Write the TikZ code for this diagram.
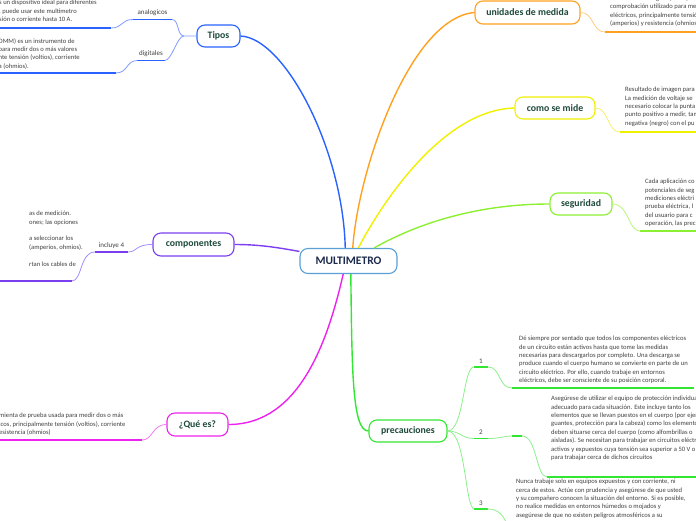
\documentclass[tikz,border=0pt]{standalone}
\usepackage{fontspec}
\setmainfont{Carlito}
\usetikzlibrary{positioning}
\definecolor{mmblue}{HTML}{2962FF}
\definecolor{mmbluetw}{HTML}{7F9BFF}
\definecolor{mmpurple}{HTML}{7B3FF0}
\definecolor{mmpurpletw}{HTML}{A58BFF}
\definecolor{mmmagenta}{HTML}{EE22EE}
\definecolor{mmmagentatw}{HTML}{F27EF2}
\definecolor{mmorange}{HTML}{FFA11F}
\definecolor{mmorangetw}{HTML}{FFCB80}
\definecolor{mmyellow}{HTML}{F0F000}
\definecolor{mmyellowtw}{HTML}{F4F070}
\definecolor{mmlime}{HTML}{8CF032}
\definecolor{mmlimetw}{HTML}{B8F580}
\definecolor{mmgreen}{HTML}{33E633}
\definecolor{mmgreentw}{HTML}{8CEF8C}
\definecolor{mmcentre}{HTML}{5A9FD6}
\definecolor{centretext}{HTML}{1C2B4D}
\definecolor{topictext}{HTML}{1E4A3A}
\definecolor{leaftext}{HTML}{404040}

\tikzset{
  topic/.style={draw, fill=white, rounded corners=8pt, line width=1.1pt,
    font=\bfseries\fontsize{9.8}{11}\selectfont, text=topictext,
    minimum height=22pt, inner sep=2pt},
  tag/.style={font=\fontsize{7}{8}\selectfont, text=leaftext,
    inner xsep=1pt, inner ysep=3.5pt, anchor=south},
  leaf/.style={font=\fontsize{6.6}{8.4}\selectfont, text=leaftext,
    align=left, inner sep=0pt, anchor=north west},
  branch/.style={line width=1.4pt},
  twig/.style={line width=0.8pt},
  ul/.style={line width=1.8pt},
}

\begin{document}
\begin{tikzpicture}[x=1pt, y=-1pt]
  \useasboundingbox (0,0) rectangle (696,520);
  \clip (0,0) rectangle (696,520);

  % centre and main topics
  \node[topic, draw=mmcentre, text=centretext, minimum width=97pt, minimum height=25pt,
    font=\bfseries\fontsize{11.5}{13}\selectfont] (multi) at (348.5,261) {MULTIMETRO};
  \node[topic, draw=mmblue, minimum width=43pt] (tipos) at (218.5,36) {Tipos};
  \node[topic, draw=mmpurple, minimum width=81pt, minimum height=23pt] (comp) at (193.5,244.5) {componentes};
  \node[topic, draw=mmmagenta, minimum width=61pt, minimum height=23pt] (quees) at (197.5,424.5) {¿Qué es?};
  \node[topic, draw=mmorange, minimum width=105pt, minimum height=23pt] (unid) at (527.5,12.5) {unidades de medida};
  \node[topic, draw=mmyellow, minimum width=80pt] (como) at (555,108) {como se mide};
  \node[topic, draw=mmlime, minimum width=62pt] (seg) at (581,204) {seguridad};
  \node[topic, draw=mmgreen, minimum width=78pt] (prec) at (408,431) {precauciones};

  % main branches
  \draw[branch, mmblue] (multi.104) .. controls (343,150) and (285,38) .. (tipos.east);
  \draw[branch, mmorange] (multi.72) .. controls (358,170) and (410,18) .. (unid.west);
  \draw[branch, mmyellow] (multi.53) .. controls (378,210) and (440,110) .. (como.west);
  \draw[branch, mmlime] (multi.27) .. controls (420,222) and (480,204) .. (seg.west);
  \draw[branch, mmpurple] (multi.169) .. controls (275,247) and (258,244.5) .. (comp.east);
  \draw[branch, mmmagenta] (multi.248) .. controls (328,340) and (300,424.5) .. (quees.east);
  \draw[branch, mmgreen] (multi.280) .. controls (352,370) and (352,431) .. (prec.west);

  % Tipos: analogicos / digitales
  \node[tag, minimum width=39pt] (analog) at (152.5,19.5) {analogicos};
  \node[tag, minimum width=27pt] (digit) at (151,60.5) {digitales};
  \draw[ul, mmblue] (analog.south west) -- (analog.south east);
  \draw[ul, mmblue] (digit.south west) -- (digit.south east);
  \coordinate (tipj) at (184,36);
  \draw[twig, mmbluetw] (tipos.west) -- (tipj) .. controls (177,36) and (179,19.5) .. (analog.south east);
  \draw[twig, mmbluetw] (tipj) .. controls (177,36) and (172,60.5) .. (digit.south east);

  \node[leaf] (anatext) at (-1,0) {s un dispositivo ideal para diferentes\\, puede usar este multimetro\\sión o corriente hasta 10 A.};
  \coordinate (anaL) at (-2,28); \coordinate (anaR) at (111,28);
  \draw[ul, mmblue] (anaL) -- (anaR);
  \draw[twig, mmbluetw] (anaR) .. controls (123,28) and (121,19.5) .. (analog.south west);

  \node[leaf] (digtext) at (-1.5,38) {DMM) es un instrumento de\\para medir dos o más valores\\nte tensión (voltios), corriente\\a (ohmios).};
  \coordinate (digL) at (-2,73); \coordinate (digR) at (116,73);
  \draw[ul, mmblue] (digL) -- (digR);
  \draw[twig, mmbluetw] (digR) .. controls (128,73) and (126,60.5) .. (digit.south west);

  % componentes
  \node[tag, minimum width=33pt] (incl) at (111.5,252) {incluye 4};
  \draw[ul, mmpurple] (incl.south west) -- (incl.south east);
  \draw[twig, mmpurpletw] (incl.south east) .. controls (137,252) and (135,244.5) .. (comp.west);
  \node[leaf] (comptext) at (29,211) {as de medición.\\ones; las opciones\\\mbox{}\\a seleccionar los\\(amperios, ohmios).\\\mbox{}\\rtan los cables de};
  \coordinate (compL) at (-2,281); \coordinate (compR) at (72,281);
  \draw[ul, mmpurple] (compL) -- (compR);
  \draw[twig, mmpurpletw] (compR) .. controls (82,281) and (80,252) .. (incl.south west);

  % Que es
  \node[leaf] (quetext) at (-1,413) {mienta de prueba usada para medir dos o más\\icos, principalmente tensión (voltios), corriente\\esistencia (ohmios)};
  \coordinate (queL) at (-2,440); \coordinate (queR) at (142,440);
  \draw[ul, mmmagenta] (queL) -- (queR);
  \draw[twig, mmmagentatw] (queR) .. controls (153,440) and (152,424.5) .. (quees.west);

  % unidades de medida
  \node[leaf] (unidtext) at (610,-4.5) {Un multímetro digital (DMM) es un instrumento de\\comprobación utilizado para medir\\eléctricos, principalmente tensión (voltios)\\(amperios) y resistencia (ohmios).};
  \coordinate (unidL) at (605,32); \coordinate (unidR) at (700,32);
  \draw[ul, mmorange] (unidL) -- (unidR);
  \draw[twig, mmorangetw] (unid.east) .. controls (594,12.5) and (592,32) .. (unidL);

  % como se mide
  \node[leaf] (comotext) at (625,87) {Resultado de imagen para\\La medición de voltaje se\\necesario colocar la punta\\punto positivo a medir, tam\\negativa (negro) con el pu};
  \coordinate (comoL) at (620,132); \coordinate (comoR) at (700,132);
  \draw[ul, mmyellow] (comoL) -- (comoR);
  \draw[twig, mmyellowtw] (como.east) .. controls (609,108) and (607,132) .. (comoL);

  % seguridad
  \node[leaf] (segtext) at (645,179) {Cada aplicación co\\potenciales de seg\\mediciones eléctri\\prueba eléctrica, l\\del usuario para c\\operación, las prec};
  \coordinate (segL) at (640,231); \coordinate (segR) at (700,231);
  \draw[ul, mmlime] (segL) -- (segR);
  \draw[twig, mmlimetw] (seg.east) .. controls (629,204) and (628,231) .. (segL);

  % precauciones 1, 2, 3
  \node[tag, minimum width=14pt] (pone) at (481,367) {1};
  \node[tag, minimum width=14pt] (ptwo) at (481,438.5) {2};
  \node[tag, minimum width=13pt] (pthree) at (481,509) {3};
  \draw[ul, mmgreen] (pone.south west) -- (pone.south east);
  \draw[ul, mmgreen] (ptwo.south west) -- (ptwo.south east);
  \draw[ul, mmgreen] (pthree.south west) -- (pthree.south east);
  \draw[twig, mmgreentw] (prec.east) .. controls (464,431) and (463,367) .. (pone.south west);
  \draw[twig, mmgreentw] (prec.east) .. controls (460,431) and (462,438.5) .. (ptwo.south west);
  \draw[twig, mmgreentw] (prec.east) .. controls (466,431) and (465,509) .. (pthree.south west);

  \node[leaf] (ponetext) at (519,336) {Dé siempre por sentado que todos los componentes eléctricos\\de un circuito están activos hasta que tome las medidas\\necesarias para descargarlos por completo. Una descarga se\\produce cuando el cuerpo humano se convierte en parte de un\\circuito eléctrico. Por ello, cuando trabaje en entornos\\eléctricos, debe ser consciente de su posición corporal.};
  \coordinate (poneL) at (512,388); \coordinate (poneR) at (694,388);
  \draw[ul, mmgreen] (poneL) -- (poneR);
  \draw[twig, mmgreentw] (pone.south east) .. controls (501,367) and (498,388) .. (poneL);

  \node[leaf] (ptwotext) at (551,396) {Asegúrese de utilizar el equipo de protección individual\\adecuado para cada situación. Este incluye tanto los\\elementos que se llevan puestos en el cuerpo (por ejemplo,\\guantes, protección para la cabeza) como los elementos que\\deben situarse cerca del cuerpo (como alfombrillas o\\aisladas). Se necesitan para trabajar en circuitos eléctricos\\activos y expuestos cuya tensión sea superior a 50 V o\\para trabajar cerca de dichos circuitos};
  \coordinate (ptwoM) at (512,436); \coordinate (ptwoN) at (522,436);
  \coordinate (ptwoL) at (547,477); \coordinate (ptwoR) at (700,477);
  \draw[ul, mmgreen] (ptwoL) -- (ptwoR);
  \draw[twig, mmgreentw] (ptwo.south east) .. controls (500,438.5) and (504,436) .. (ptwoM);
  \draw[ul, mmgreen] (ptwoM) -- (ptwoN);
  \draw[twig, mmgreentw] (ptwoN) .. controls (537,436) and (536,477) .. (ptwoL);

  \node[leaf] (pthreetext) at (516,479) {Nunca trabaje solo en equipos expuestos y con corriente, ni\\cerca de estos. Actúe con prudencia y asegúrese de que usted\\y su compañero conocen la situación del entorno. Si es posible,\\no realice medidas en entornos húmedos o mojados y\\asegúrese de que no existen peligros atmosféricos a su};
  \coordinate (pthreeL) at (508,527); \coordinate (pthreeR) at (700,527);
  \draw[ul, mmgreen] (pthreeL) -- (pthreeR);
  \draw[twig, mmgreentw] (pthree.south east) .. controls (498,509) and (504,515) .. (pthreeL);
\end{tikzpicture}
\end{document}
